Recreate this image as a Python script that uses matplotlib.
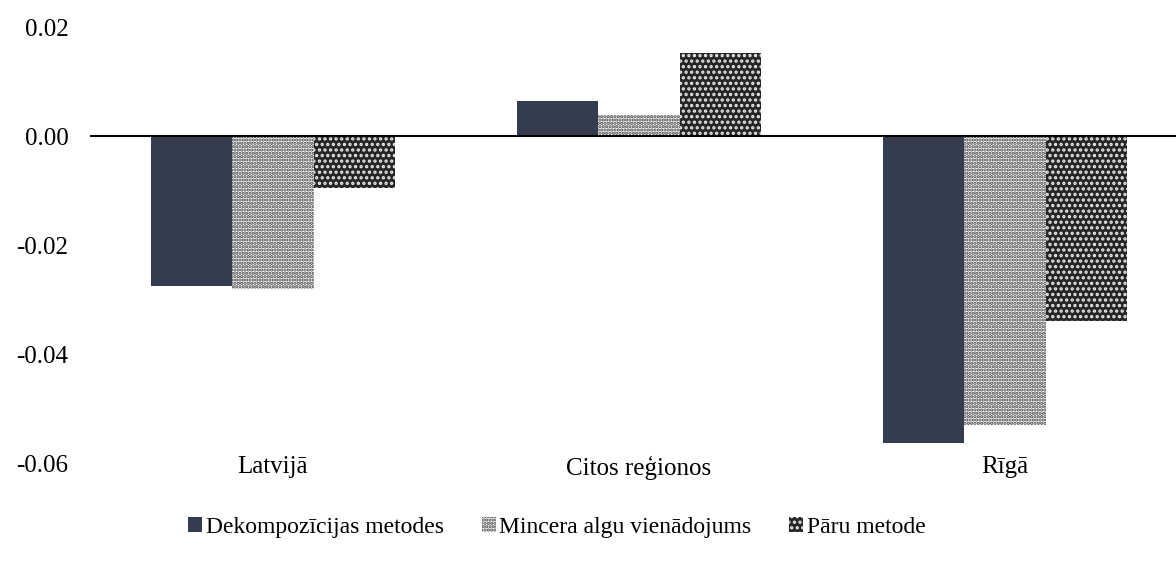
import matplotlib
matplotlib.use("Agg")
import matplotlib.pyplot as plt
import numpy as np

plt.rcParams['font.family'] = ['Liberation Serif', 'DejaVu Serif']
plt.rcParams['hatch.linewidth'] = 1.6

categories = ["Latvijā", "Citos reģionos", "Rīgā"]
series_names = ["Dekompozīcijas metodes", "Mincera algu vienādojums", "Pāru metode"]
dekomp = [-0.0275, 0.0064, -0.0563]
mincera = [-0.0281, 0.0039, -0.0530]
paru = [-0.0095, 0.0152, -0.0340]

fig = plt.figure(figsize=(11.76, 5.65), dpi=100)
ax = fig.add_axes([0.0765, 0.1805, 0.9235, 0.7715])

x = np.arange(len(categories))
w = 0.222

ax.bar(x - w, dekomp, w, color='#333d4f', edgecolor='#333d4f', linewidth=0,
       label=series_names[0])
ax.bar(x, mincera, w, color='white', edgecolor='#3a3a3a', linewidth=0,
       hatch='.....', label=series_names[1])
ax.bar(x + w, paru, w, color='#262626', edgecolor='#e8e8e8', linewidth=0,
       hatch='...', label=series_names[2])

ax.axhline(0, color='black', linewidth=1.5)
ax.set_xlim(-0.5, 2.467)
ax.set_ylim(-0.06, 0.02)
ax.set_yticks(np.arange(-0.06, 0.021, 0.02))
ax.set_yticklabels(['%.2f' % v for v in np.arange(-0.06, 0.021, 0.02)])
ax.set_xticks(x)
ax.set_xticklabels(categories)
for s in ax.spines.values():
    s.set_visible(False)
ax.tick_params(length=0, labelsize=18, colors='black')
ax.tick_params(axis='y', pad=15.5)
ax.tick_params(axis='x', pad=-5)

ax.legend(loc='upper center', bbox_to_anchor=(0.43, -0.075), ncol=3, frameon=False,
          fontsize=17, handlelength=0.6, handleheight=0.6, handletextpad=0.15,
          columnspacing=1.6)

fig.savefig("out.png", dpi=100)
